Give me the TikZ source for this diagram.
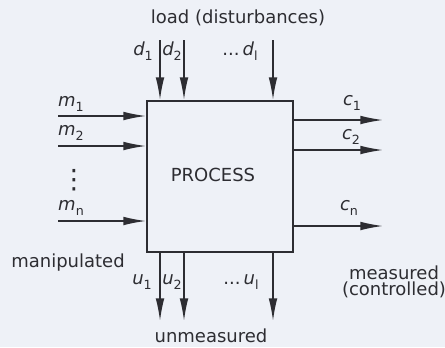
\documentclass[tikz,border=0pt]{standalone}
\usepackage{fontspec}
\setmainfont{DejaVu Sans}
\usetikzlibrary{arrows.meta}
\definecolor{bg}{RGB}{238,241,247}
\definecolor{ink}{RGB}{45,45,50}
\newcommand\sbs[1]{\raisebox{-0.45ex}{\fontsize{9.5}{10}\selectfont\upshape #1}}
\begin{document}
\begin{tikzpicture}[x=0.75pt,y=-0.75pt,
  lbl/.style={text=ink,font=\fontsize{13.5}{16}\selectfont,inner sep=0pt},
  var/.style={text=ink,font=\fontsize{13.5}{16}\selectfont\itshape,inner sep=0pt},
  sig/.style={draw=ink,line width=1.1pt,-{Latex[length=17pt,width=6.5pt]}},
  procbox/.style={draw=ink,line width=1.5pt,minimum width=109.5pt,minimum height=113.25pt,inner sep=0pt}]
\fill[bg] (0,0) rectangle (445,347);
\useasboundingbox (0,0) rectangle (445,347);

\node[procbox] (box) at (220,176.5) {};
\node[lbl] (proc) at (213,175) {PROCESS};

% disturbances
\node[lbl] (load) at (238,18) {load (disturbances)};
\coordinate (d1s) at (160,40);
\coordinate (d2s) at (184,40);
\coordinate (dls) at (273,40);
\draw[sig] (d1s) -- (d1s |- box.north);
\draw[sig] (d2s) -- (d2s |- box.north);
\draw[sig] (dls) -- (dls |- box.north);
\node[var] (d1) at (143,51) {d\sbs{1}};
\node[var] (d2) at (172,51) {d\sbs{2}};
\node[var] (dl) at (240,51) {\upshape...\,\itshape d\sbs{l}};

% manipulated
\coordinate (m1s) at (58,116);
\coordinate (m2s) at (58,146);
\coordinate (mns) at (58,221);
\draw[sig] (m1s) -- (m1s -| box.west);
\draw[sig] (m2s) -- (m2s -| box.west);
\draw[sig] (mns) -- (mns -| box.west);
\node[var] (m1) at (71,104) {m\sbs{1}};
\node[var] (m2) at (71,133) {m\sbs{2}};
\node[lbl,font=\fontsize{20}{20}\selectfont] (mdots) at (74,180) {⋮};
\node[var] (mn) at (71,208) {m\sbs{n}};
\node[lbl] (manip) at (68,263) {manipulated};

% measured
\coordinate (c1e) at (383,120);
\coordinate (c2e) at (383,150);
\coordinate (cne) at (383,226);
\draw[sig] (c1e -| box.east) -- (c1e);
\draw[sig] (c2e -| box.east) -- (c2e);
\draw[sig] (cne -| box.east) -- (cne);
\node[var] (c1) at (352,103) {c\sbs{1}};
\node[var] (c2) at (351,137) {c\sbs{2}};
\node[var] (cn) at (349,208) {c\sbs{n}};
\node[lbl,align=center,font=\fontsize{13.5}{12.5}\selectfont] (meas) at (394,282) {measured\\(controlled)};

% unmeasured
\coordinate (u1e) at (160,321);
\coordinate (u2e) at (184,321);
\coordinate (ule) at (273,321);
\draw[sig] (u1e |- box.south) -- (u1e);
\draw[sig] (u2e |- box.south) -- (u2e);
\draw[sig] (ule |- box.south) -- (ule);
\node[var] (u1) at (142,282) {u\sbs{1}};
\node[var] (u2) at (172,282) {u\sbs{2}};
\node[var] (ul) at (241,282) {\upshape...\,\itshape u\sbs{l}};
\node[lbl] (unmeas) at (211,336) {unmeasured};
\end{tikzpicture}
\end{document}
